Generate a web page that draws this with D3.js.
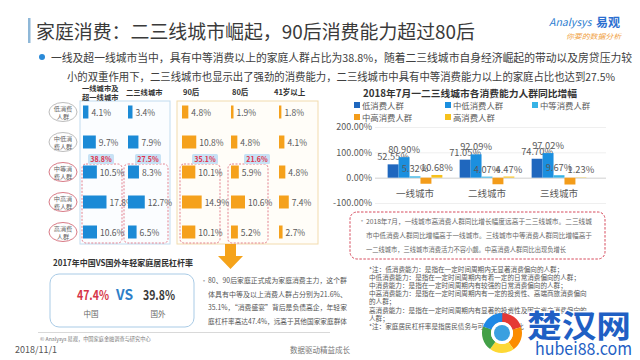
<!DOCTYPE html>
<html><head><meta charset="utf-8">
<script src="https://cdn.jsdelivr.net/npm/d3@7"></script>
<style>
body{margin:0;background:#fff}
svg{display:block}
text{font-family:"Noto Sans CJK SC","Noto Sans",sans-serif}
</style></head>
<body><svg id="c" width="640" height="360"></svg>
<script>
// ---------- DATA ----------
const pageTitle = "家庭消费：二三线城市崛起，90后消费能力超过80后";
const bulletLines = ["一线及超一线城市当中，具有中等消费以上的家庭人群占比为38.8%，随着二三线城市自身经济崛起的带动以及房贷压力较",
                     "小的双重作用下，二三线城市也显示出了强劲的消费能力，二三线城市中具有中等消费能力以上的家庭占比也达到27.5%"];
const rowLabelLines = [["低消费","人群"],["中低消","费人群"],["中等消","费人群"],["中高消","费人群"],["高消费","人群"]];
const cityHeaders = ["一线城市及超一线城市","二三线城市"];
const ageHeaders = ["90后","80后","41岁以上"];
const tier1Share  = [4.1, 9.7, 10.5, 17.8, 10.6];
const tier23Share = [3.4, 7.9, 8.3, 12.7, 6.5];
const post90Share = [4.8, 10.8, 10.1, 14.9, 10.1];
const post80Share = [1.9, 4.8, 5.9, 10.6, 5.2];
const over41Share = [1.8, 4.1, 4.8, 7.4, 2.7];
const midUpTotals = [38.8, 27.5, 35.1, 21.6];
const leverageTitle = "2017年中国VS国外年轻家庭居民杠杆率";
const leverageLabels = ["中国","国外"];
const leverageValues = [47.4, 39.8];
const paraLines = ["80、90后家庭正式成为家庭消费主力，这个群",
                   "体具有中等及以上消费人群占分别为21.6%、",
                   "35.1%，“消费盛宴”背后是负债高企，年轻家",
                   "庭杠杆率高达47.4%，远高于其他国家家庭群体"];
const growthTitle = "2018年7月一二三线城市各消费能力人群同比增幅";
const cityTiers = ["一线城市","二线城市","三线城市"];
const growthSeries = ["低消费人群","中低消费人群","中等消费人群","中高消费人群","高消费人群"];
const growthLow     = [52.55, 71.05, 74.70];
const growthMidLow  = [80.90, 92.09, 97.02];
const growthMid     = [5.32, 4.07, 9.67];
const growthMidHigh = [-24, -26, -27];   // estimated, unlabeled in source
const growthHigh    = [10.68, 4.47, 1.23];
const growthTicks = [-100, 0, 100, 200];
const noteBoxLines = ["2018年7月，一线城市高消费人群同比增长幅度远高于二三线城市。二三线城",
                      "市中低消费人群同比增幅高于一线城市。三线城市中等消费人群同比增幅高于",
                      "一二线城市，三线城市消费活力不容小觑。中高消费人群同比出现负增长"];
const footNotes = ["*注：低消费能力：是指在一定时间周期内无显著消费偏向的人群；",
                   "中低消费能力：是指在一定时间周期内有着一定的日常消费偏向的人群；",
                   "中消费能力：是指在一定时间周期内有较强的日常消费偏向的人群；",
                   "中高消费能力：是指在一定时间周期内有一定的投资性、高端商旅消费偏向",
                   "的人群；",
                   "高消费能力：是指在一定时间周期内有显著的投资性及固定资产消费偏向的",
                   "人群；",
                   "*注：家庭居民杠杆率是指居民债务与可支配收入之比"];
const sourceText = "© Analysys 易观，中国家庭金融调查与研究中心";
const dateText = "2018/11/1";
const sloganText = "数据驱动精益成长";

// ---------- DRAW ----------
const svg = d3.select("#c");
function txt(g, x, y, s, size, fill, opts={}) {
  const t = g.append("text").attr("x", x).attr("y", y).text(s)
    .attr("font-size", size).attr("fill", fill)
    .attr("dominant-baseline", "central");
  if (opts.anchor) t.attr("text-anchor", opts.anchor);
  if (opts.weight) t.attr("font-weight", opts.weight);
  if (opts.len) t.attr("textLength", opts.len).attr("lengthAdjust", "spacingAndGlyphs");
  return t;
}

// header
svg.append("rect").attr("x", 28).attr("y", 18).attr("width", 2.5).attr("height", 25).attr("fill", "#8fb8d8");
txt(svg, 36, 30, pageTitle, 19, "#3a3a3a", {len: 439});
txt(svg, 549, 21, "Analysys", 10.5, "#2b7dd0").attr("font-style", "italic");
txt(svg, 596, 21, "易观", 12, "#2b6fd0", {weight: "bold"});
txt(svg, 566, 36, "你要的数据分析", 7, "#f0a040", {len: 55}).attr("font-style", "italic");

svg.append("circle").attr("cx", 42).attr("cy", 57).attr("r", 3).attr("fill", "#2a8ad8");
txt(svg, 51, 57, bulletLines[0], 10.8, "#404040", {len: 581});
txt(svg, 67, 76, bulletLines[1], 10.8, "#404040", {len: 548});

// ---------- left panel ----------
const L = svg.append("g");
const rowY = d3.scalePoint().domain(d3.range(5)).range([112, 232]);
const xPct = d3.scaleLinear().domain([0, 10]).range([0, 13.2]);
const columns = [
  {vals: tier1Share,  x0: 83,  color: "#1b8ad6"},
  {vals: tier23Share, x0: 128, color: "#1b8ad6"},
  {vals: post90Share, x0: 182, color: "#f5a11c"},
  {vals: post80Share, x0: 231, color: "#f5a11c"},
  {vals: over41Share, x0: 279, color: "#f5a11c"}
];
L.append("rect").attr("x", 80).attr("y", 101).attr("width", 90).attr("height", 143)
  .attr("fill", "#fbfdff").attr("stroke", "#c2dcef").attr("stroke-width", 1);
L.append("rect").attr("x", 177).attr("y", 101).attr("width", 141).attr("height", 143)
  .attr("fill", "#fffdf8").attr("stroke", "#f2dbae").attr("stroke-width", 1);

txt(L, 82, 88, cityHeaders[0].slice(0, 5), 7.3, "#333", {weight: "bold"});
txt(L, 82, 97, cityHeaders[0].slice(5), 7.3, "#333", {weight: "bold"});
txt(L, 126, 92, cityHeaders[1], 7.3, "#333", {weight: "bold"});
[183, 232, 274].forEach((x, i) => txt(L, x, 91, ageHeaders[i], 7.5, "#333", {weight: "bold"}));

rowLabelLines.forEach((lines, i) => {
  const y = rowY(i);
  L.append("ellipse").attr("cx", 63).attr("cy", y).attr("rx", 14).attr("ry", 9.5)
    .attr("fill", "#fff").attr("stroke", i < 2 ? "#bdbdbd" : "#d97a86").attr("stroke-width", 1);
  txt(L, 63, y - 4, lines[0], 6.2, "#666", {anchor: "middle"});
  txt(L, 63, y + 4, lines[1], 6.2, "#666", {anchor: "middle"});
});

const dashBoxes = [[82, 40], [124, 44], [180, 40], [228, 40]];
dashBoxes.forEach(([x, w]) => {
  L.append("rect").attr("x", x).attr("y", 164).attr("width", w).attr("height", 79).attr("rx", 4)
    .attr("fill", "none").attr("stroke", "#e07585").attr("stroke-width", 0.9).attr("stroke-dasharray", "2,1.5");
});

columns.forEach(col => {
  col.vals.forEach((v, i) => {
    const y = rowY(i);
    L.append("rect").attr("x", col.x0).attr("y", y - 6.5).attr("width", Math.max(2, xPct(v))).attr("height", 13).attr("fill", col.color);
    txt(L, col.x0 + Math.max(2, xPct(v)) + 3, y, v.toFixed(1) + "%", 8.5, "#595959");
  });
});

const tagCx = [101, 148, 205, 257];
midUpTotals.forEach((t, i) => {
  L.append("rect").attr("x", tagCx[i] - 13).attr("y", 154).attr("width", 26).attr("height", 10).attr("rx", 1.5).attr("fill", "#c7e2f5");
  txt(L, tagCx[i], 159, t.toFixed(1) + "%", 7, "#e0304a", {anchor: "middle", weight: "bold"});
});

L.append("path").attr("d", "M225,244 L236,244 L236,256 L243,256 L230.5,269 L218,256 L225,256 Z").attr("fill", "#f5a31a");

// leverage box
txt(svg, 53, 262, leverageTitle, 8.2, "#333", {weight: "bold", len: 140});
svg.append("rect").attr("x", 50).attr("y", 274).attr("width", 144).attr("height", 53).attr("rx", 9)
  .attr("fill", "#fff").attr("stroke", "#a9cbe6").attr("stroke-width", 1);
txt(svg, 77, 294, leverageValues[0].toFixed(1) + "%", 13, "#d63447", {weight: "bold", len: 32});
txt(svg, 116, 294, "VS", 14, "#2f7fc8", {weight: "bold", len: 17});
txt(svg, 143, 294, leverageValues[1].toFixed(1) + "%", 13, "#3a3a3a", {weight: "bold", len: 32});
txt(svg, 91, 313, leverageLabels[0], 7.5, "#666", {anchor: "middle"});
txt(svg, 158, 313, leverageLabels[1], 7.5, "#666", {anchor: "middle"});

txt(svg, 200, 280, "·", 8, "#aaa");
paraLines.forEach((s, i) => txt(svg, 208, 280 + i * 13.6, s, 7.2, "#555", {len: 139}));

svg.append("line").attr("x1", 38).attr("x2", 330).attr("y1", 332.5).attr("y2", 332.5).attr("stroke", "#d9d9d9");
txt(svg, 40, 338, sourceText, 5.2, "#777");
txt(svg, 15, 349, dateText, 9, "#555");
txt(svg, 290, 349, sloganText, 7.5, "#777");

// ---------- right chart ----------
const R = svg.append("g");
txt(R, 470, 93, growthTitle, 9.6, "#333", {anchor: "middle", weight: "bold", len: 214});
const colors = ["#1f67be", "#1b8fdf", "#37b3e6", "#f39c1a", "#f6c11d"];
const legendPos = [[354, 105], [445, 105], [532, 105], [354, 117], [445, 117]];
growthSeries.forEach((s, i) => {
  R.append("rect").attr("x", legendPos[i][0]).attr("y", legendPos[i][1] - 3).attr("width", 6).attr("height", 6).attr("fill", colors[i]);
  txt(R, legendPos[i][0] + 8, legendPos[i][1], s, 8.4, "#595959");
});

const y = d3.scaleLinear().domain([-100, 200]).range([203, 127]);
const x0 = d3.scaleBand().domain(cityTiers).range([379, 595]).paddingInner(0.24).paddingOuter(0.12);
const x1 = d3.scaleBand().domain(growthSeries).range([0, x0.bandwidth()]);
const seriesVals = [growthLow, growthMidLow, growthMid, growthMidHigh, growthHigh];

R.selectAll(".grid").data(growthTicks).enter().append("line")
  .attr("x1", 375).attr("x2", 606).attr("y1", d => y(d) + 0.5).attr("y2", d => y(d) + 0.5)
  .attr("stroke", d => d === 0 ? "#d0d0d0" : "#efefef");

const yAxis = R.append("g").attr("transform", "translate(372,0)")
  .call(d3.axisLeft(y).tickValues(growthTicks).tickSize(0).tickPadding(0).tickFormat(d => d.toFixed(2) + "%"));
yAxis.select(".domain").remove();
yAxis.selectAll("text").attr("font-size", 9).attr("fill", "#595959")
  .attr("font-family", '"Noto Sans CJK SC","Noto Sans",sans-serif');

cityTiers.forEach((c, ci) => {
  growthSeries.forEach((s, si) => {
    const v = seriesVals[si][ci];
    const bx = x0(c) + x1(s);
    R.append("rect").attr("x", bx).attr("y", y(Math.max(0, v))).attr("width", x1.bandwidth())
      .attr("height", Math.abs(y(v) - y(0))).attr("fill", colors[si]);
    if (v >= 0) {
      txt(R, bx + x1.bandwidth() / 2, y(v) - 8, v.toFixed(2) + "%", 9.3, "#595959", {anchor: "middle"});
    }
  });
  txt(R, x0(c) + x0.bandwidth() / 2, 193, c, 9.5, "#595959", {anchor: "middle"});
});

R.append("rect").attr("x", 350).attr("y", 212).attr("width", 255).attr("height", 47).attr("rx", 7)
  .attr("fill", "#fff").attr("stroke", "#d64a5c").attr("stroke-width", 1).attr("stroke-dasharray", "2.5,1.5");
txt(R, 358, 220, "·", 8, "#aaa");
noteBoxLines.forEach((s, i) => txt(R, 366, 221 + i * 14, s, 6.8, "#666", {len: i === 2 ? 200 : 226}));

footNotes.forEach((s, i) => txt(R, 369, 269 + i * 8.1, s, 6.6, "#555"));

// watermark 楚汉网
const W = svg.append("g");
const wcx = 502, wcy = 333;
const arcCols = ["#e53935", "#fb8c00", "#fdd835", "#43a047", "#1e88e5"];
arcCols.forEach((c, i) => {
  const a = d3.arc().innerRadius(11).outerRadius(20).startAngle(i * 1.26).endAngle((i + 1) * 1.26);
  W.append("path").attr("d", a()).attr("transform", `translate(${wcx},${wcy})`).attr("fill", c);
});
W.append("circle").attr("cx", wcx).attr("cy", wcy).attr("r", 11).attr("fill", "#fff");
W.append("circle").attr("cx", wcx).attr("cy", wcy).attr("r", 8).attr("fill", "#3aa0e0");
txt(W, 527, 323, "楚汉网", 31, "#1f5fc4", {weight: "bold", len: 104})
  .attr("stroke", "#fff").attr("stroke-width", 3).attr("paint-order", "stroke");
txt(W, 535, 347, "hubei88.com", 17, "#1f5fc4", {len: 97})
  .attr("stroke", "#fff").attr("stroke-width", 2).attr("paint-order", "stroke");
</script></body></html>
